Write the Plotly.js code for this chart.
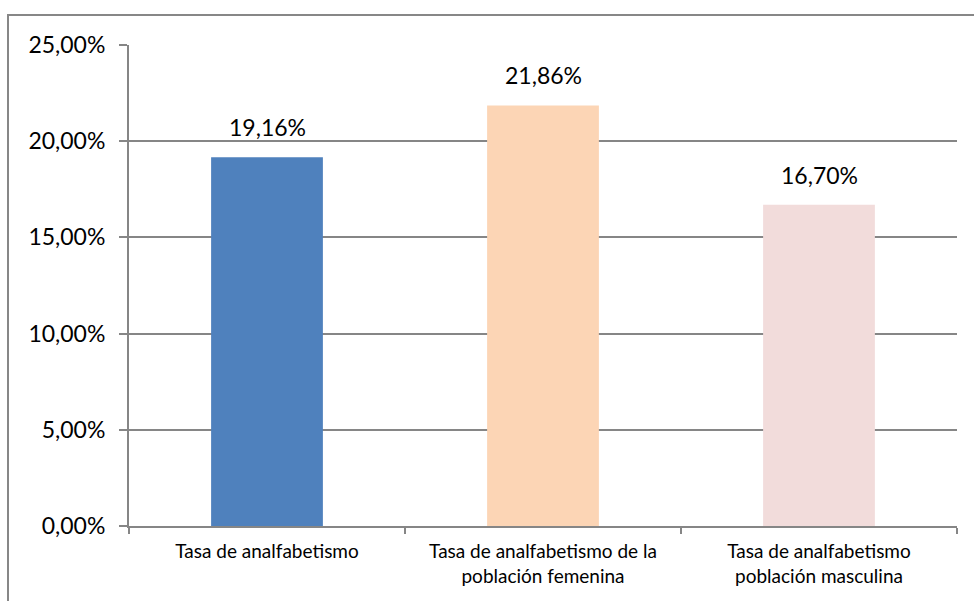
<!DOCTYPE html>
<html>
<head>
<meta charset="utf-8">
<script src="https://cdn.plot.ly/plotly-3.0.1.min.js"></script>
<style>
  html, body { margin: 0; padding: 0; background: #ffffff; }
  #wrap { position: relative; width: 974px; height: 601px; overflow: hidden; }
  #frame { position: absolute; left: 7px; top: 14px; width: 1100px; height: 800px;
           border-left: 2px solid #878787; border-top: 2px solid #878787; }
  #chart { position: absolute; left: 0; top: 0; width: 974px; height: 601px; }
</style>
</head>
<body>
<div id="wrap">
  <div id="frame"></div>
  <div id="chart"></div>
</div>
<script>
const categories = [
  "Tasa de analfabetismo",
  "Tasa de analfabetismo de la<br>población femenina",
  "Tasa de analfabetismo<br>población masculina"
];
const values = [0.1916, 0.2186, 0.1670];
const barColors = ["#4F81BD", "#FCD5B5", "#F2DCDB"];
const yTickVals = [0, 0.05, 0.10, 0.15, 0.20, 0.25];

const FONT = "Lato, 'Open Sans', sans-serif";

const trace = {
  type: "bar",
  x: categories,
  y: values,
  marker: { color: barColors, line: { width: 0 } },
  hoverinfo: "skip"
};

const annotations = categories.map((c, i) => ({
  x: c, y: values[i], xref: "x", yref: "y",
  text: (values[i] * 100).toFixed(2).replace(".", ",") + "%",
  showarrow: false, yanchor: "bottom", yshift: 14,
  font: { family: FONT, size: 23, color: "#000000" }
}));

const layout = {
  width: 974, height: 601,
  margin: { l: 129, r: 17, t: 45, b: 75, pad: 0 },
  paper_bgcolor: "rgba(0,0,0,0)",
  plot_bgcolor: "rgba(0,0,0,0)",
  separators: ",.",
  showlegend: false,
  bargap: 0.595,
  font: { family: FONT, color: "#000000" },
  xaxis: {
    type: "category",
    showline: true, linecolor: "#868686", linewidth: 2,
    ticks: "outside", ticklen: 6, tickcolor: "#868686", tickwidth: 2,
    tickson: "boundaries",
    showgrid: false, zeroline: false,
    tickfont: { family: FONT, size: 19, color: "#000000" },
    ticklabelstandoff: 7,
    fixedrange: true
  },
  yaxis: {
    range: [0, 0.25],
    tickvals: yTickVals,
    tickformat: ".2%",
    showline: true, linecolor: "#868686", linewidth: 2,
    ticks: "outside", ticklen: 8, tickcolor: "#868686", tickwidth: 2,
    showgrid: true, gridcolor: "#868686", gridwidth: 2,
    zeroline: false,
    tickfont: { family: FONT, size: 23, color: "#000000" },
    ticklabelstandoff: 9,
    fixedrange: true
  },
  annotations: annotations
};

Plotly.newPlot("chart", [trace], layout, { displayModeBar: false, staticPlot: true });
</script>
</body>
</html>
